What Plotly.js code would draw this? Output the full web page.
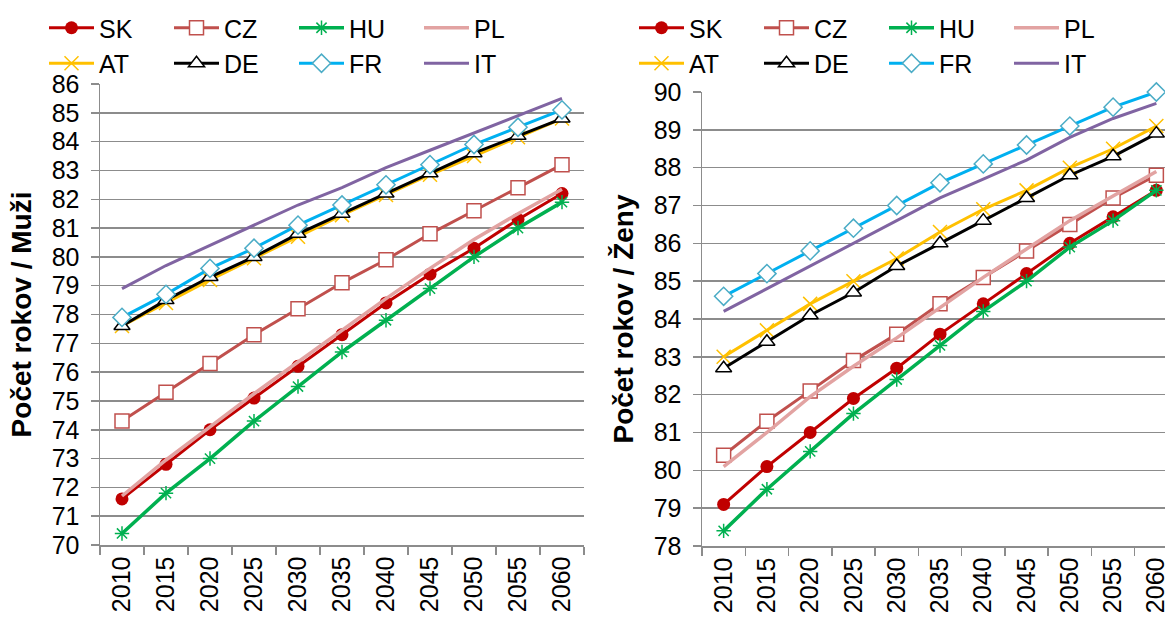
<!DOCTYPE html>
<html>
<head>
<meta charset="utf-8">
<script src="https://cdn.plot.ly/plotly-3.0.1.min.js"></script>
<style>
html, body { margin: 0; padding: 0; overflow: hidden; background: #fff; width: 1165px; height: 619px; }
#left { position: absolute; left: 0; top: 0; width: 590px; height: 619px; }
#right { position: absolute; left: 590px; top: 0; width: 600px; height: 619px; }
</style>
</head>
<body>
<div id="left"></div>
<div id="right"></div>
<script>
const years = ['2010','2015','2020','2025','2030','2035','2040','2045','2050','2055','2060'];
const countries = ['SK','CZ','HU','PL','AT','DE','FR','IT'];

// Muži (men)
const maleSK = [71.6, 72.8, 74.0, 75.1, 76.2, 77.3, 78.4, 79.4, 80.3, 81.3, 82.2];
const maleCZ = [74.3, 75.3, 76.3, 77.3, 78.2, 79.1, 79.9, 80.8, 81.6, 82.4, 83.2];
const maleHU = [70.4, 71.8, 73.0, 74.3, 75.5, 76.7, 77.8, 78.9, 80.0, 81.0, 81.9];
const malePL = [71.7, 72.95, 74.1, 75.25, 76.35, 77.45, 78.55, 79.6, 80.6, 81.5, 82.35];
const maleAT = [77.6, 78.4, 79.2, 79.95, 80.7, 81.45, 82.15, 82.85, 83.5, 84.15, 84.8];
const maleDE = [77.6, 78.5, 79.3, 80.0, 80.8, 81.5, 82.2, 82.9, 83.6, 84.2, 84.8];
const maleFR = [77.9, 78.7, 79.6, 80.3, 81.1, 81.8, 82.5, 83.2, 83.9, 84.5, 85.1];
const maleIT = [78.9, 79.7, 80.4, 81.1, 81.8, 82.4, 83.1, 83.7, 84.3, 84.9, 85.5];

// Ženy (women)
const femaleSK = [79.1, 80.1, 81.0, 81.9, 82.7, 83.6, 84.4, 85.2, 86.0, 86.7, 87.4];
const femaleCZ = [80.4, 81.3, 82.1, 82.9, 83.6, 84.4, 85.1, 85.8, 86.5, 87.2, 87.8];
const femaleHU = [78.4, 79.5, 80.5, 81.5, 82.4, 83.3, 84.2, 85.0, 85.9, 86.6, 87.4];
const femalePL = [80.1, 81.0, 81.95, 82.75, 83.5, 84.3, 85.1, 85.85, 86.6, 87.25, 87.9];
const femaleAT = [83.0, 83.7, 84.4, 85.0, 85.6, 86.3, 86.9, 87.4, 88.0, 88.5, 89.1];
const femaleDE = [82.7, 83.4, 84.1, 84.7, 85.4, 86.0, 86.6, 87.2, 87.8, 88.3, 88.9];
const femaleFR = [84.6, 85.2, 85.8, 86.4, 87.0, 87.6, 88.1, 88.6, 89.1, 89.6, 90.0];
const femaleIT = [84.2, 84.8, 85.4, 86.0, 86.6, 87.2, 87.7, 88.2, 88.8, 89.3, 89.7];

const FONT = 'Liberation Sans, Arial, sans-serif';
const GRID = '#8c8c8c';

const styles = {
  SK: {mode: 'lines+markers', line: {color: '#c00000', width: 3}, marker: {symbol: 'circle', size: 13, color: '#c00000'}},
  CZ: {mode: 'lines+markers', line: {color: '#c0504d', width: 3}, marker: {symbol: 'square', size: 14, color: '#ffffff', line: {color: '#c0504d', width: 1.5}}},
  HU: {mode: 'lines+markers', line: {color: '#00b050', width: 3.5}, marker: {symbol: 'asterisk-open', size: 12, color: '#00b050', line: {color: '#00b050', width: 1.5}}},
  PL: {mode: 'lines', line: {color: '#e2a3a2', width: 3.5}},
  AT: {mode: 'lines+markers', line: {color: '#ffc000', width: 3}, marker: {symbol: 'x-thin-open', size: 14, color: '#ffc000', line: {color: '#ffc000', width: 1.5}}},
  DE: {mode: 'lines+markers', line: {color: '#000000', width: 3}, marker: {symbol: 'triangle-up', size: 14, color: '#ffffff', line: {color: '#000000', width: 1.5}}},
  FR: {mode: 'lines+markers', line: {color: '#00b0f0', width: 3}, marker: {symbol: 'diamond', size: 14, color: '#ffffff', line: {color: '#4bacc6', width: 1.5}}},
  IT: {mode: 'lines', line: {color: '#8064a2', width: 3}}
};

function makeTraces(series) {
  return countries.map((c, i) => Object.assign({
    type: 'scatter', x: years, y: series[i], name: c, cliponaxis: false
  }, styles[c]));
}

function makeLayout(W, l, r, t, b, yRange, title) {
  const plotW = W - l - r;
  const plotH = 619 - t - b;
  const legendLeft = 44;   // px from the div's left edge
  const legendTop = 5;     // px from the div's top edge
  return {
    width: W, height: 619,
    margin: {l: l, r: r, t: t, b: b, autoexpand: false},
    paper_bgcolor: '#ffffff', plot_bgcolor: '#ffffff',
    font: {family: FONT, size: 25, color: '#000000'},
    showlegend: true,
    legend: {
      orientation: 'h', xref: 'paper', yref: 'paper',
      x: (legendLeft - l) / plotW, y: 1 + (t - legendTop) / plotH,
      xanchor: 'left', yanchor: 'top',
      font: {family: FONT, size: 25, color: '#000'},
      itemwidth: 45, entrywidth: 65, entrywidthmode: 'pixels',
      tracegroupgap: 0, bgcolor: 'rgba(0,0,0,0)', traceorder: 'normal'
    },
    xaxis: {
      type: 'category', range: [-0.5, 10.5], tickson: 'boundaries',
      ticks: 'outside', ticklen: 8, tickcolor: GRID, tickwidth: 1.5,
      showline: true, linecolor: GRID, linewidth: 1.5,
      showgrid: false, zeroline: false, tickangle: -90,
      tickfont: {family: FONT, size: 25, color: '#000'}, fixedrange: true
    },
    yaxis: {
      range: yRange, dtick: 1, tick0: 0, ticks: 'outside', ticklen: 8, tickcolor: GRID, tickwidth: 1.5,
      showline: true, linecolor: GRID, linewidth: 1.5,
      showgrid: true, gridcolor: GRID, gridwidth: 1.5, zeroline: false,
      tickfont: {family: FONT, size: 25, color: '#000'},
      ticklabelstandoff: 6,
      title: {text: title, standoff: 12, font: {family: FONT, size: 28, color: '#000', weight: 'bold'}},
      fixedrange: true
    }
  };
}

const leftSeries = [maleSK, maleCZ, maleHU, malePL, maleAT, maleDE, maleFR, maleIT];
const rightSeries = [femaleSK, femaleCZ, femaleHU, femalePL, femaleAT, femaleDE, femaleFR, femaleIT];

Plotly.newPlot('left', makeTraces(leftSeries),
  makeLayout(590, 100, 6, 84, 74, [70, 86], 'Počet rokov / Muži'),
  {staticPlot: true, displayModeBar: false});

Plotly.newPlot('right', makeTraces(rightSeries),
  makeLayout(600, 112, 12, 92, 73, [78, 90], 'Počet rokov / Ženy'),
  {staticPlot: true, displayModeBar: false});
</script>
</body>
</html>
